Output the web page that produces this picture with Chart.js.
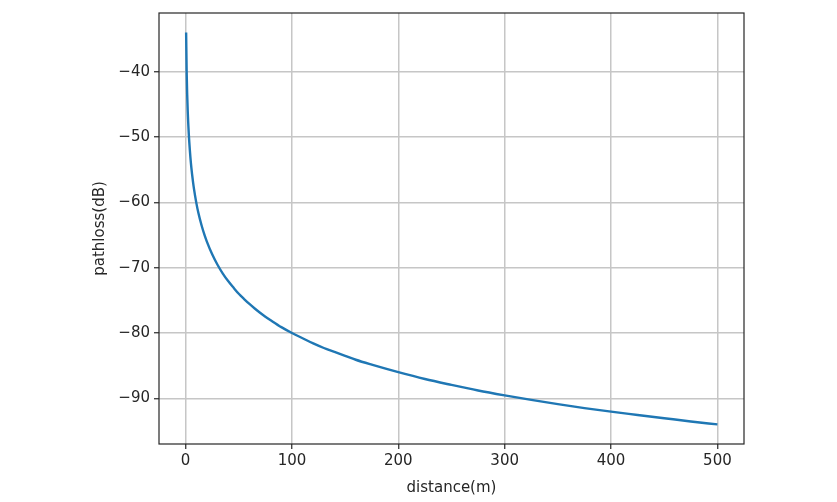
<!DOCTYPE html>
<html>
<head>
<meta charset="utf-8">
<script src="https://cdn.jsdelivr.net/npm/chart.js@4"></script>
<style>
  html, body { margin: 0; padding: 0; background: #fff; }
  canvas { display: block; }
</style>
</head>
<body>
<canvas id="myChart" width="837" height="502"></canvas>
<script>
'use strict';

// distance (m) and path loss (dB)
const distances = [0.5, 1, 1.5, 2, 3, 4, 5, 6, 7, 8, 10, 12, 15, 18, 20, 25, 30, 35, 40, 45, 50, 55, 60, 65,
  70, 75, 80, 90, 100, 110, 120, 130, 140, 150, 160, 175, 200, 225, 250, 275, 300, 325, 350, 375,
  400, 425, 450, 475, 500];
const pathloss = [-34, -40, -43.5, -46, -49.5, -52, -54, -55.55, -56.9, -58.05, -60, -61.6, -63.5, -65.1,
  -66, -67.95, -69.55, -70.9, -72.05, -73.05, -74, -74.8, -75.55, -76.25, -76.9, -77.5, -78.05, -79.1,
  -80, -80.8, -81.6, -82.3, -82.9, -83.5, -84.1, -84.85, -86, -87.05, -87.95, -88.8, -89.55, -90.25,
  -90.9, -91.5, -92.05, -92.55, -93.05, -93.55, -94];

const xTicks = [0, 100, 200, 300, 400, 500];
const yTicks = [-90, -80, -70, -60, -50, -40];

const points = distances.map((d, i) => ({ x: d, y: pathloss[i] }));

const frame = {
  id: 'frame',
  afterDraw(chart) {
    const a = chart.chartArea;
    const c = chart.ctx;
    c.save();
    c.strokeStyle = '#262626';
    c.lineWidth = 1.2;
    c.strokeRect(a.left, a.top, a.right - a.left, a.bottom - a.top);
    c.restore();
  }
};

const font = { family: 'DejaVu Sans', size: 15 };
const gridStyle = { color: '#c6c6c6', lineWidth: 1.5, tickColor: '#262626', tickLength: 5, tickWidth: 1.2 };

let ctx = document.getElementById('myChart').getContext('2d');
let myChart = new Chart(ctx, {
  type: 'line',
  data: {
    datasets: [{
      data: points,
      borderColor: '#1f77b4',
      borderWidth: 2.4,
      pointRadius: 0,
      fill: false,
      cubicInterpolationMode: 'monotone'
    }]
  },
  options: {
    responsive: false,
    animation: false,
    layout: { padding: { top: 10, right: 93, bottom: 0, left: 0 } },
    plugins: { legend: { display: false }, tooltip: { enabled: false } },
    scales: {
      x: {
        type: 'linear',
        min: -25,
        max: 525,
        afterBuildTicks: s => { s.ticks = xTicks.map(v => ({ value: v })); },
        afterFit: s => { s.height = 58; },
        grid: gridStyle,
        border: { display: false },
        ticks: { color: '#262626', font: font, padding: 3, maxRotation: 0 },
        title: { display: true, text: 'distance(m)', color: '#262626', font: font, padding: { top: 0, bottom: 5 } }
      },
      y: {
        type: 'linear',
        min: -97,
        max: -31,
        afterBuildTicks: s => { s.ticks = yTicks.map(v => ({ value: v })); },
        afterFit: s => { s.width = 159; },
        grid: gridStyle,
        border: { display: false },
        ticks: {
          color: '#262626', font: font, padding: 4,
          callback: v => String(v).replace('-', '\u2212')
        },
        title: { display: true, text: 'pathloss(dB)', color: '#262626', font: font, padding: { top: 91, bottom: 0 } }
      }
    }
  },
  plugins: [frame]
});
</script>
</body>
</html>
